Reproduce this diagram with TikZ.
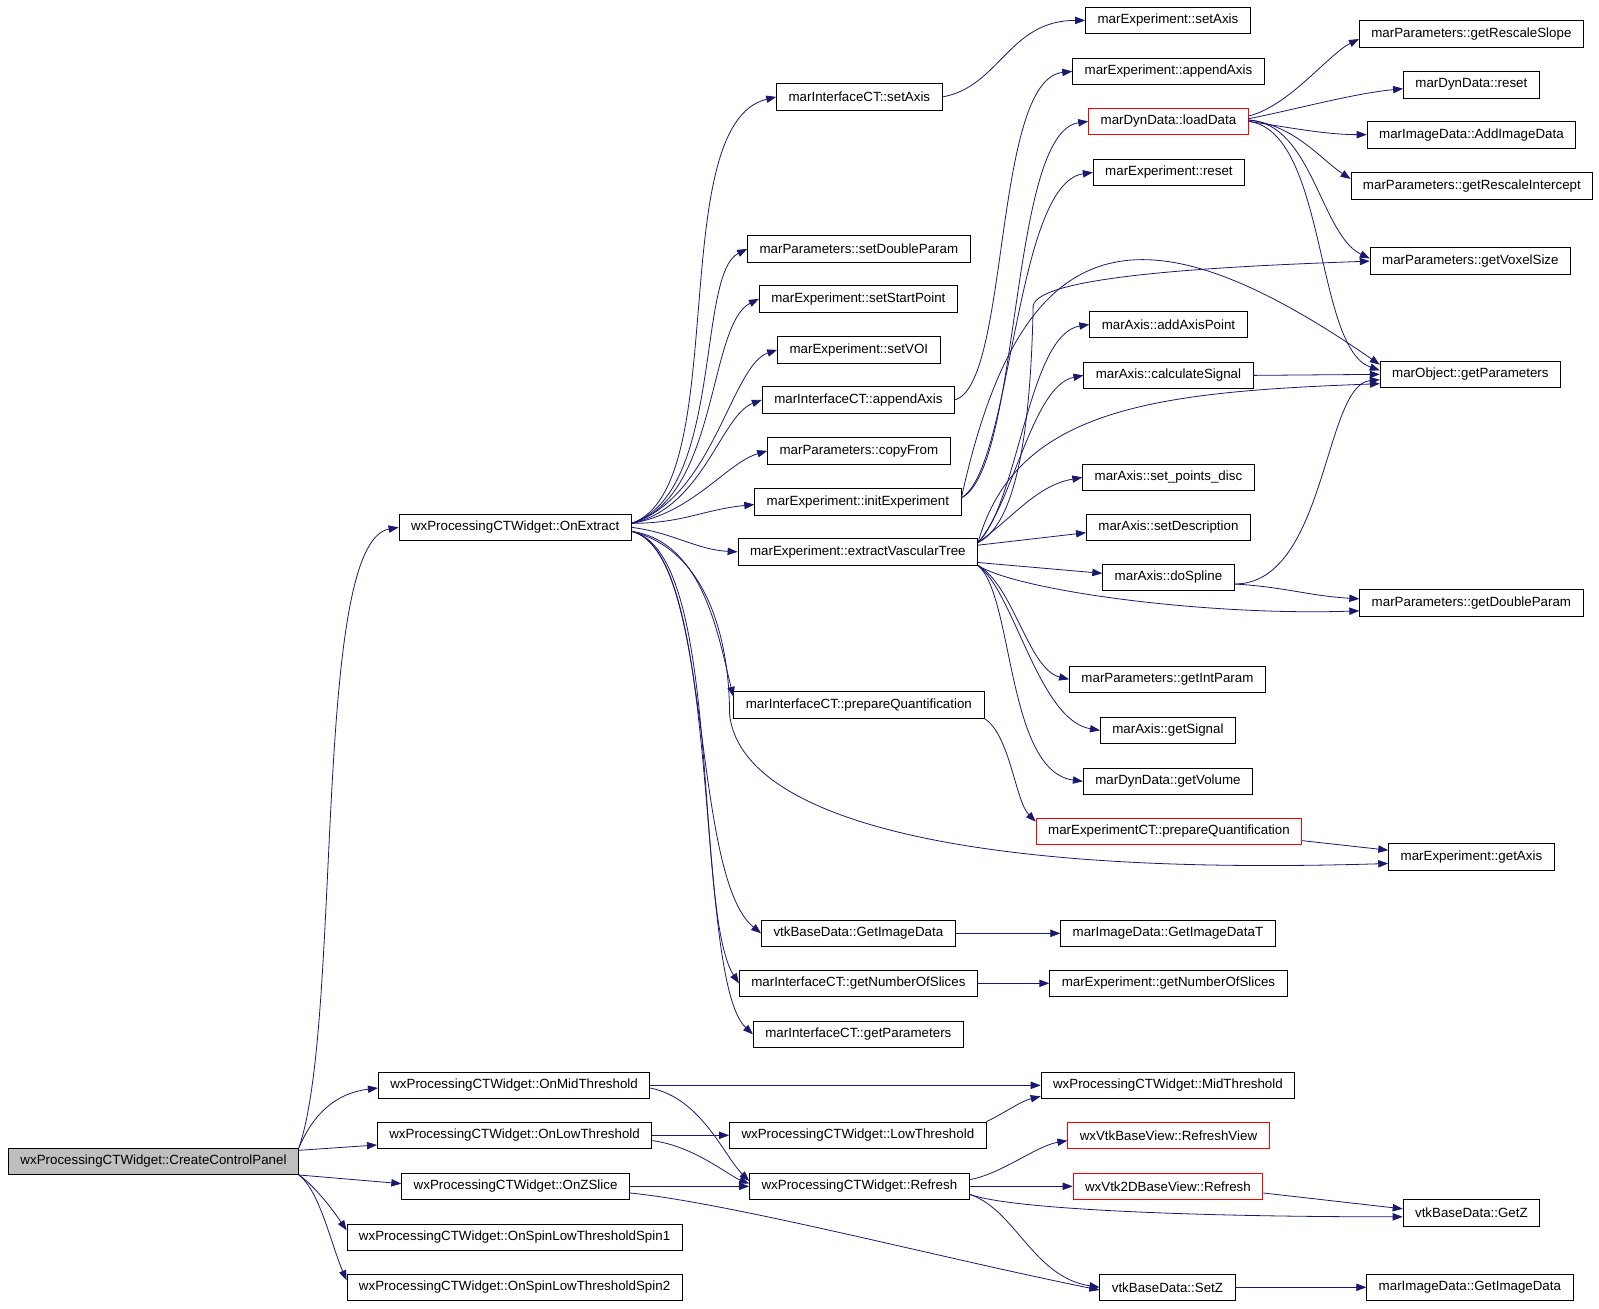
\documentclass[tikz,border=0pt]{standalone}
\usepackage{fontspec}
\setmainfont{Liberation Sans}
\usetikzlibrary{arrows.meta}
\definecolor{edgeblue}{HTML}{191970}
\definecolor{rootgray}{HTML}{BFBFBF}
\tikzset{
      func/.style={draw=black, fill=white, line width=0.6pt, inner xsep=9pt, inner ysep=0pt,
            minimum height=19.9pt, font=\fontsize{10}{12}\selectfont},
      funcred/.style={func, draw=red},
      funcroot/.style={func, fill=rootgray},
      call/.style={draw=edgeblue, line width=0.6pt, -{Triangle[length=7.5pt,width=5.5pt]}},
}
\begin{document}
\begin{tikzpicture}[x=0.765pt, y=-0.765pt]
        \useasboundingbox (0,0) rectangle (1567.6,1282.4);
        \fill[white] (0,0) rectangle (1567.6,1282.4);

        % Draw the functions
        \node[funcroot] (createpanel) at (150.5,1138.5) {wxProcessingCTWidget::CreateControlPanel};

        \node[func] (onextract) at (505,517) {wxProcessingCTWidget::OnExtract};
        \node[func] (onmid) at (504,1064) {wxProcessingCTWidget::OnMidThreshold};
        \node[func] (onlow) at (504.5,1113) {wxProcessingCTWidget::OnLowThreshold};
        \node[func] (onzslice) at (505.5,1163) {wxProcessingCTWidget::OnZSlice};
        \node[func] (onspin1) at (504.5,1213) {wxProcessingCTWidget::OnSpinLowThresholdSpin1};
        \node[func] (onspin2) at (504.5,1262) {wxProcessingCTWidget::OnSpinLowThresholdSpin2};

        \node[func] (ictsetaxis) at (842.5,95) {marInterfaceCT::setAxis};
        \node[func] (setdouble) at (842,244) {marParameters::setDoubleParam};
        \node[func] (setstart) at (841.5,293) {marExperiment::setStartPoint};
        \node[func] (setvoi) at (842,343) {marExperiment::setVOI};
        \node[func] (ictappend) at (841.5,392) {marInterfaceCT::appendAxis};
        \node[func] (copyfrom) at (842,442) {marParameters::copyFrom};
        \node[func] (initexp) at (841,492) {marExperiment::initExperiment};
        \node[func] (extract) at (841,541) {marExperiment::extractVascularTree};
        \node[func] (ictprepq) at (842,691) {marInterfaceCT::prepareQuantification};
        \node[func] (getimgdata) at (841.5,915) {vtkBaseData::GetImageData};
        \node[func] (ictslices) at (841.5,964) {marInterfaceCT::getNumberOfSlices};
        \node[func] (ictparams) at (841.5,1014) {marInterfaceCT::getParameters};
        \node[func] (lowthr) at (841,1113) {wxProcessingCTWidget::LowThreshold};
        \node[func] (refresh) at (842.5,1163) {wxProcessingCTWidget::Refresh};

        \node[func] (expsetaxis) at (1145,20) {marExperiment::setAxis};
        \node[func] (expappend) at (1145.5,70) {marExperiment::appendAxis};
        \node[funcred] (loaddata) at (1145.5,119) {marDynData::loadData};
        \node[func] (expreset) at (1146,169) {marExperiment::reset};
        \node[func] (addpoint) at (1145.5,318) {marAxis::addAxisPoint};
        \node[func] (calcsignal) at (1145.5,368) {marAxis::calculateSignal};
        \node[func] (setpoints) at (1145.5,468) {marAxis::set\_points\_disc};
        \node[func] (setdescr) at (1145.5,517) {marAxis::setDescription};
        \node[func] (dospline) at (1145.5,566) {marAxis::doSpline};
        \node[func] (getint) at (1144.5,666) {marParameters::getIntParam};
        \node[func] (getsignal) at (1145,716) {marAxis::getSignal};
        \node[func] (getvolume) at (1145,766) {marDynData::getVolume};
        \node[funcred] (expctprepq) at (1146,815) {marExperimentCT::prepareQuantification};
        \node[func] (getimgdatat) at (1145,915) {marImageData::GetImageDataT};
        \node[func] (expslices) at (1145.5,964) {marExperiment::getNumberOfSlices};
        \node[func] (midthr) at (1145,1064) {wxProcessingCTWidget::MidThreshold};
        \node[funcred] (refreshview) at (1145.5,1113) {wxVtkBaseView::RefreshView};
        \node[funcred] (vtk2drefresh) at (1145,1163) {wxVtk2DBaseView::Refresh};
        \node[func] (setz) at (1144.5,1262) {vtkBaseData::SetZ};

        \node[func] (rescaleslope) at (1442.5,33) {marParameters::getRescaleSlope};
        \node[func] (dynreset) at (1442.5,83) {marDynData::reset};
        \node[func] (addimage) at (1442.5,132) {marImageData::AddImageData};
        \node[func] (rescaleint) at (1443,182) {marParameters::getRescaleIntercept};
        \node[func] (voxelsize) at (1441.5,256) {marParameters::getVoxelSize};
        \node[func] (objparams) at (1441.5,367) {marObject::getParameters};
        \node[func] (getdouble) at (1442.5,591) {marParameters::getDoubleParam};
        \node[func] (expgetaxis) at (1442.5,840) {marExperiment::getAxis};
        \node[func] (getz) at (1442.5,1189) {vtkBaseData::GetZ};
        \node[func] (imggetdata) at (1441,1262) {marImageData::GetImageData};

        % Draw the calls of CreateControlPanel
        \draw[call] (createpanel.north east) .. controls +(43,-126) and +(-85,15) .. (onextract.west);
        \draw[call] (createpanel.north east) .. controls +(15,-35) and +(-40,5) .. ([yshift=-2pt]onmid.west);
        \draw[call] ([yshift=-2pt]createpanel.north east) -- ([yshift=3pt]onlow.south west);
        \draw[call] (createpanel.south east) -- ([yshift=2pt]onzslice.west);
        \draw[call] (createpanel.south east) .. controls +(15,10) and +(-12,-18) .. ([yshift=-5pt]onspin1.north west);
        \draw[call] (createpanel.south east) .. controls +(20,15) and +(-15,-35) .. ([yshift=-5pt]onspin2.north west);

        % Draw the calls of OnExtract
        \draw[call] ([yshift=3pt]onextract.east) .. controls +(100,-35) and +(-111,27) .. (ictsetaxis.west);
        \draw[call] ([yshift=3pt]onextract.east) .. controls +(90,-30) and +(-50,25) .. (setdouble.west);
        \draw[call] ([yshift=3pt]onextract.east) .. controls +(85,-25) and +(-50,25) .. (setstart.west);
        \draw[call] ([yshift=3pt]onextract.east) .. controls +(80,-25) and +(-45,15) .. (setvoi.west);
        \draw[call] ([yshift=3pt]onextract.east) .. controls +(70,-15) and +(-40,15) .. (ictappend.west);
        \draw[call] ([yshift=3pt]onextract.east) .. controls +(60,-10) and +(-40,12) .. (copyfrom.west);
        \draw[call] ([yshift=3pt]onextract.east) .. controls +(50,0) and +(-50,5) .. ([yshift=-2pt]initexp.west);
        \draw[call] (onextract.east) .. controls +(40,5) and +(-40,-2) .. (extract.west);
        \draw[call] ([yshift=-3pt]onextract.east) .. controls +(70,10) and +(-15,-60) .. ([yshift=6pt]ictprepq.west);
        \draw[call] ([yshift=-3pt]onextract.east) .. controls +(80,20) and +(-70,-57) .. (getimgdata.west);
        \draw[call] ([yshift=-3pt]onextract.east) .. controls +(90,20) and +(-45,-70) .. (ictslices.west);
        \draw[call] ([yshift=-3pt]onextract.east) .. controls +(90,20) and +(-58,-54) .. (ictparams.west);
        \draw[call] ([yshift=-3pt]onextract.east) .. controls +(80,20) and +(0,-60) .. +(96,179)
              .. controls +(9,90) and +(-462,14) .. ([yshift=-5pt]expgetaxis.west);

        % Draw the second level calls
        \draw[call] (ictsetaxis.east) .. controls +(56,-10) and +(-75,0) .. (expsetaxis.west);
        \draw[call] (ictappend.east) .. controls +(54,-15) and +(-78,8) .. (expappend.west);
        \draw[call] ([yshift=3pt]initexp.east) .. controls +(59,-30) and +(-78,11) .. (loaddata.west);
        \draw[call] ([yshift=3pt]initexp.east) .. controls +(50,-30) and +(-77,11) .. (expreset.west);
        \draw[call] ([yshift=3pt]initexp.east) .. controls +(59,-270) and +(-234,-162) .. ([yshift=-3pt]objparams.north west);

        \draw[call] ([yshift=7pt]extract.east) .. controls +(42,-20) and +(-2,100) .. +(54,-232)
              .. controls +(5,-30) and +(-140,5) .. (voxelsize.west);
        \draw[call] ([yshift=7pt]extract.east) .. controls +(37,-132) and +(-220,8) .. ([yshift=-7pt]objparams.west);
        \draw[call] ([yshift=7pt]extract.east) .. controls +(40,-40) and +(-60,10) .. (addpoint.west);
        \draw[call] ([yshift=7pt]extract.east) .. controls +(35,-40) and +(-50,10) .. (calcsignal.west);
        \draw[call] ([yshift=7pt]extract.east) .. controls +(35,-25) and +(-45,8) .. (setpoints.west);
        \draw[call] ([yshift=5pt]extract.east) -- ([yshift=-4pt]setdescr.west);
        \draw[call] ([yshift=-8pt]extract.east) -- ([yshift=3pt]dospline.west);
        \draw[call] (extract.south east) .. controls +(40,25) and +(-150,5) .. ([yshift=-6pt]getdouble.west);
        \draw[call] (extract.south east) .. controls +(35,20) and +(-40,-10) .. (getint.west);
        \draw[call] (extract.south east) .. controls +(35,25) and +(-60,-10) .. (getsignal.west);
        \draw[call] (extract.south east) .. controls +(35,30) and +(-75,-10) .. (getvolume.west);

        % Draw the calls of loadData
        \draw[call] ([yshift=4pt]loaddata.east) .. controls +(40,-10) and +(-30,15) .. ([yshift=-4pt]rescaleslope.west);
        \draw[call] ([yshift=2pt]loaddata.east) .. controls +(50,-10) and +(-50,5) .. ([yshift=-3pt]dynreset.west);
        \draw[call] (loaddata.east) .. controls +(40,6) and +(-40,0) .. (addimage.west);
        \draw[call] ([yshift=1pt]loaddata.east) .. controls +(45,5) and +(-30,-20) .. ([yshift=5pt]rescaleint.west);
        \draw[call] ([yshift=1pt]loaddata.east) .. controls +(62,3) and +(-48,-23) .. ([yshift=2pt]voxelsize.west);
        \draw[call] (loaddata.east) .. controls +(77,10) and +(-64,-22) .. ([yshift=3pt]objparams.west);

        \draw[call] (calcsignal.east) -- (objparams.west);
        \draw[call] ([yshift=-5pt]dospline.east) .. controls +(90,0) and +(-55,5) .. ([yshift=-4pt]objparams.west);
        \draw[call] ([yshift=-5pt]dospline.east) .. controls +(50,3) and +(-50,-3) .. ([yshift=3pt]getdouble.west);

        \draw[call] (ictprepq.south east) .. controls +(25,15) and +(-20,-20) .. ([yshift=-3pt]expctprepq.north west);
        \draw[call] ([yshift=-7pt]expctprepq.east) -- ([yshift=5pt]expgetaxis.west);
        \draw[call] (getimgdata.east) -- (getimgdatat.west);
        \draw[call] (ictslices.east) -- (expslices.west);

        % Draw the threshold and refresh calls
        \draw[call] (onmid.east) -- (midthr.west);
        \draw[call] ([yshift=-2pt]onmid.east) .. controls +(50,10) and +(-25,-25) .. ([yshift=4pt]refresh.west);
        \draw[call] (onlow.east) -- (lowthr.west);
        \draw[call] ([yshift=-4pt]onlow.east) .. controls +(40,5) and +(-20,-8) .. ([yshift=2pt]refresh.west);
        \draw[call] (onzslice.east) -- (refresh.west);
        \draw[call] ([yshift=-5pt]onzslice.east) .. controls +(100,10) and +(-150,-30) .. ([yshift=-2pt]setz.west);
        \draw[call] (lowthr.north east) .. controls +(20,-10) and +(-20,5) .. ([yshift=2pt]midthr.south west);
        \draw[call] ([yshift=5pt]refresh.east) .. controls +(30,-5) and +(-30,5) .. ([yshift=-4pt]refreshview.west);
        \draw[call] (refresh.east) -- (vtk2drefresh.west);
        \draw[call] ([yshift=-6pt]refresh.east) .. controls +(40,15) and +(-200,0) .. ([yshift=-3pt]getz.west);
        \draw[call] ([yshift=-5pt]vtk2drefresh.east) -- ([yshift=3pt]getz.west);
        \draw[call] ([yshift=-6pt]refresh.east) .. controls +(45,15) and +(-65,-10) .. (setz.west);
        \draw[call] (setz.east) -- (imggetdata.west);

    \end{tikzpicture}
\end{document}
